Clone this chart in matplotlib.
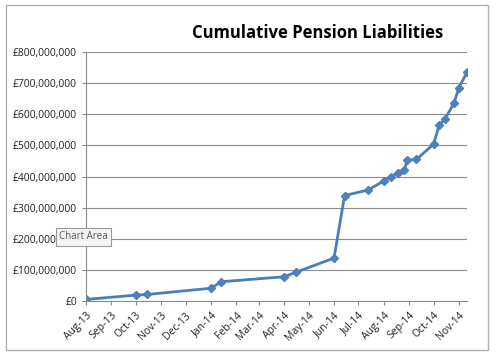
import numpy as np
import pandas as pd
import matplotlib
matplotlib.use('Agg')
import matplotlib.pyplot as plt
import matplotlib.dates as mdates
from matplotlib.patches import Rectangle
from matplotlib.ticker import FuncFormatter

dates = ['2013-08-01', '2013-10-01', '2013-10-15', '2014-01-01', '2014-01-14',
         '2014-04-01', '2014-04-15', '2014-06-01', '2014-06-14', '2014-07-13',
         '2014-08-01', '2014-08-10', '2014-08-19', '2014-08-26', '2014-08-30',
         '2014-09-10', '2014-10-01', '2014-10-08', '2014-10-15', '2014-10-26',
         '2014-11-01', '2014-11-11']
liabilities = [5, 19, 21, 41, 62,
               78, 92, 138, 339, 357,
               386, 400, 413, 421, 453,
               455, 504, 566, 585, 636,
               686, 735]  # millions of pounds

x = pd.to_datetime(dates)
y = np.array(liabilities) * 1e6

plt.rcParams['font.family'] = ['Open Sans', 'DejaVu Sans']

fig = plt.figure(figsize=(5, 3.62), dpi=100)
ax = fig.add_axes([0.172, 0.1685, 0.762, 0.6875])

# chart area border
fig.patches.append(Rectangle((0.012, 0.033), 0.964, 0.953, transform=fig.transFigure,
                             fill=False, edgecolor='#b0b0b0', lw=1))

ax.plot(x, y, color='#4a7ebb', lw=2, marker='D', ms=4.3, mec='#4a7ebb', mfc='#4f81bd')

ax.set_xlim(pd.Timestamp('2013-08-01'), pd.Timestamp('2014-11-11'))
ax.set_ylim(0, 800e6)
ax.set_yticks(np.arange(0, 800e6 + 1, 100e6))
ax.yaxis.set_major_formatter(FuncFormatter(lambda v, p: '£{:,.0f}'.format(v)))
ax.xaxis.set_major_locator(mdates.MonthLocator())
ax.xaxis.set_major_formatter(mdates.DateFormatter('%b-%y'))
ax.grid(axis='y', color='#8c8c8c', lw=0.8)
ax.set_axisbelow(True)

for s in ['top', 'right']:
    ax.spines[s].set_visible(False)
for s in ['left', 'bottom']:
    ax.spines[s].set_color('#8c8c8c')
ax.tick_params(axis='both', colors='#8c8c8c', labelcolor='#222222', labelsize=7.5, length=3)
plt.setp(ax.get_xticklabels(), rotation=45, ha='right', rotation_mode='anchor')

fig.text(0.636, 0.91, 'Cumulative Pension Liabilities', ha='center', va='center',
         fontsize=12, fontweight='bold', color='black')

fig.text(0.118, 0.346, 'Chart Area', ha='left', va='center', fontsize=7, color='#555555',
         bbox=dict(boxstyle='square,pad=0.35', fc='#f4f4f4', ec='#999999', lw=0.8))

fig.savefig('out.png', dpi=100)
